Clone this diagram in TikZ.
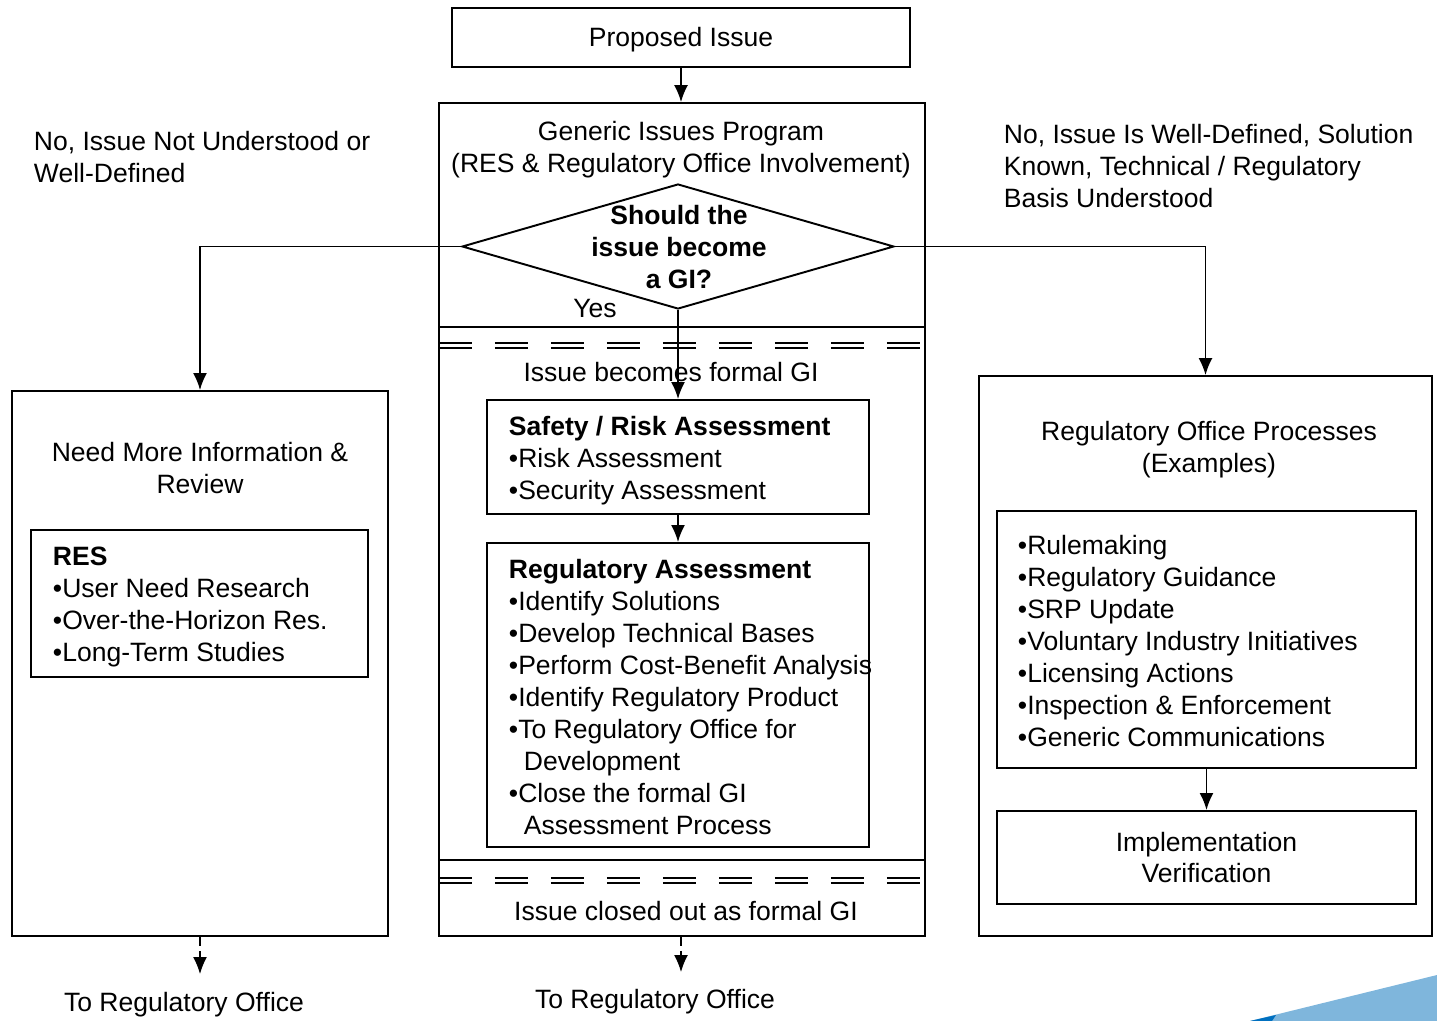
\documentclass[tikz,border=0pt]{standalone}
\usepackage{fontspec}
\setmainfont{Liberation Sans}
\usetikzlibrary{shapes.geometric,arrows.meta}
\definecolor{skyblue}{RGB}{127,182,220}
\definecolor{deepblue}{RGB}{0,112,192}
\begin{document}
\begin{tikzpicture}[x=0.02cm,y=-0.02cm,line width=1.1pt]
            \tikzstyle{every node}=[font=\fontsize{15.1}{18.2}\selectfont]
            \tikzstyle{box}=[draw,rectangle,inner sep=0pt]
            \tikzstyle{txt}=[inner sep=0pt,align=left,anchor=north west]
            \tikzstyle{ctr}=[inner sep=0pt,align=center]
            \tikzstyle{dbl}=[line width=0.8pt,dash pattern=on 0.66cm off 0.46cm]
            \tikzstyle{arr}=[-{Latex[length=0.34cm,width=0.28cm]}]
            \useasboundingbox (0,0) rectangle (1437,1021);
            \fill[skyblue] (1250,1021) -- (1437,975) -- (1437,1021) -- cycle;
            \fill[deepblue] (1250,1021) -- (1276,1015) -- (1272,1021) -- cycle;
            \draw (681,37.5) node [box,minimum width=9.16cm,minimum height=1.18cm] (prop) {\raisebox{-0.05cm}[\height][\depth]{Proposed Issue}};
            \draw (682,519.5) node [box,minimum width=9.72cm,minimum height=16.66cm] (gip) {};
            \draw (678,246.5) node [draw,diamond,inner sep=0pt,minimum width=8.64cm,minimum height=2.5cm] (q) {};
            \draw (678,457) node [box,minimum width=7.64cm,minimum height=2.28cm] (safety) {};
            \draw (678,695) node [box,minimum width=7.64cm,minimum height=6.08cm] (regass) {};
            \draw (200,663.5) node [box,minimum width=7.52cm,minimum height=10.9cm] (more) {};
            \draw (199.5,603.5) node [box,minimum width=6.74cm,minimum height=2.94cm] (res) {};
            \draw (1205.5,656) node [box,minimum width=9.06cm,minimum height=11.2cm] (office) {};
            \draw (1206.5,639.5) node [box,minimum width=8.38cm,minimum height=5.14cm] (procs) {};
            \draw (1206.5,857.5) node [box,minimum width=8.38cm,minimum height=1.86cm,align=center] (impl) {Implementation\\Verification};
            % dividers in the program box
            \draw (439,327) -- (925,327);
            \draw (439,860) -- (925,860);
            \draw[dbl] (439,343) -- (925,343);
            \draw[dbl] (439,348) -- (925,348);
            \draw[dbl] (439,878) -- (925,878);
            \draw[dbl] (439,883) -- (925,883);
            % texts
            \draw (681,150) node [ctr] (giptitle) {Generic Issues Program\\(RES \& Regulatory Office Involvement)};
            \draw (679,247) node [ctr,font=\fontsize{15.1}{18.2}\selectfont\bfseries] (qtext) {Should the\\issue become\\a GI?};
            \draw (595,308) node [ctr] (yes) {Yes};
            \draw (671,372) node [ctr] (formal) {Issue becomes formal GI};
            \draw (686,911) node [ctr] (closed) {Issue closed out as formal GI};
            \draw (200,468) node [ctr] (moretitle) {Need More Information \&\\Review};
            \draw (1209,450) node [ctr] (officetitle) {Regulatory Office Processes\\(Examples)};
            \draw (33,130) node [txt] (nolabel) {No, Issue Not Understood or\\Well-Defined};
            \draw (1003,123) node [txt] (wellabel) {No, Issue Is Well-Defined, Solution\\Known, Technical / Regulatory\\Basis Understood};
            \draw (508,415) node [txt] (safetytext) {\textbf{Safety / Risk Assessment}\\•Risk Assessment\\•Security Assessment};
            \draw (508,558) node [txt] (regtext) {\textbf{Regulatory Assessment}\\•Identify Solutions\\•Develop Technical Bases\\•Perform Cost-Benefit Analysis\\•Identify Regulatory Product\\•To Regulatory Office for\\\hspace*{0.3cm}Development\\•Close the formal GI\\\hspace*{0.3cm}Assessment Process};
            \draw (52,546) node [txt] (restext) {\textbf{RES}\\•User Need Research\\•Over-the-Horizon Res.\\•Long-Term Studies};
            \draw (1017,534) node [txt] (procstext) {•Rulemaking\\•Regulatory Guidance\\•SRP Update\\•Voluntary Industry Initiatives\\•Licensing Actions\\•Inspection \& Enforcement\\•Generic Communications};
            \draw (184,1005) node [ctr] (toleft) {To Regulatory Office};
            \draw (655,1002) node [ctr] (tomid) {To Regulatory Office};
            \coordinate (endL) at (200,974);
            \coordinate (endM) at (681,972);
            % connectors
            \draw[arr] (prop.south) -- (prop.south |- gip.north);
            \draw[arr] (q.south) -- (safety.north);
            \draw[arr] (safety) -- (regass);
            \draw[arr] (q.west) -| (more.north);
            \draw[arr] (q.east) -| (office.north);
            \draw[arr] (procs) -- (impl);
            \draw[arr,line width=0.8pt,dash pattern=on 0.18cm off 0.1cm] (more.south) -- (endL);
            \draw[arr,line width=0.8pt,dash pattern=on 0.18cm off 0.1cm] (endM |- gip.south) -- (endM);
\end{tikzpicture}
\end{document}
